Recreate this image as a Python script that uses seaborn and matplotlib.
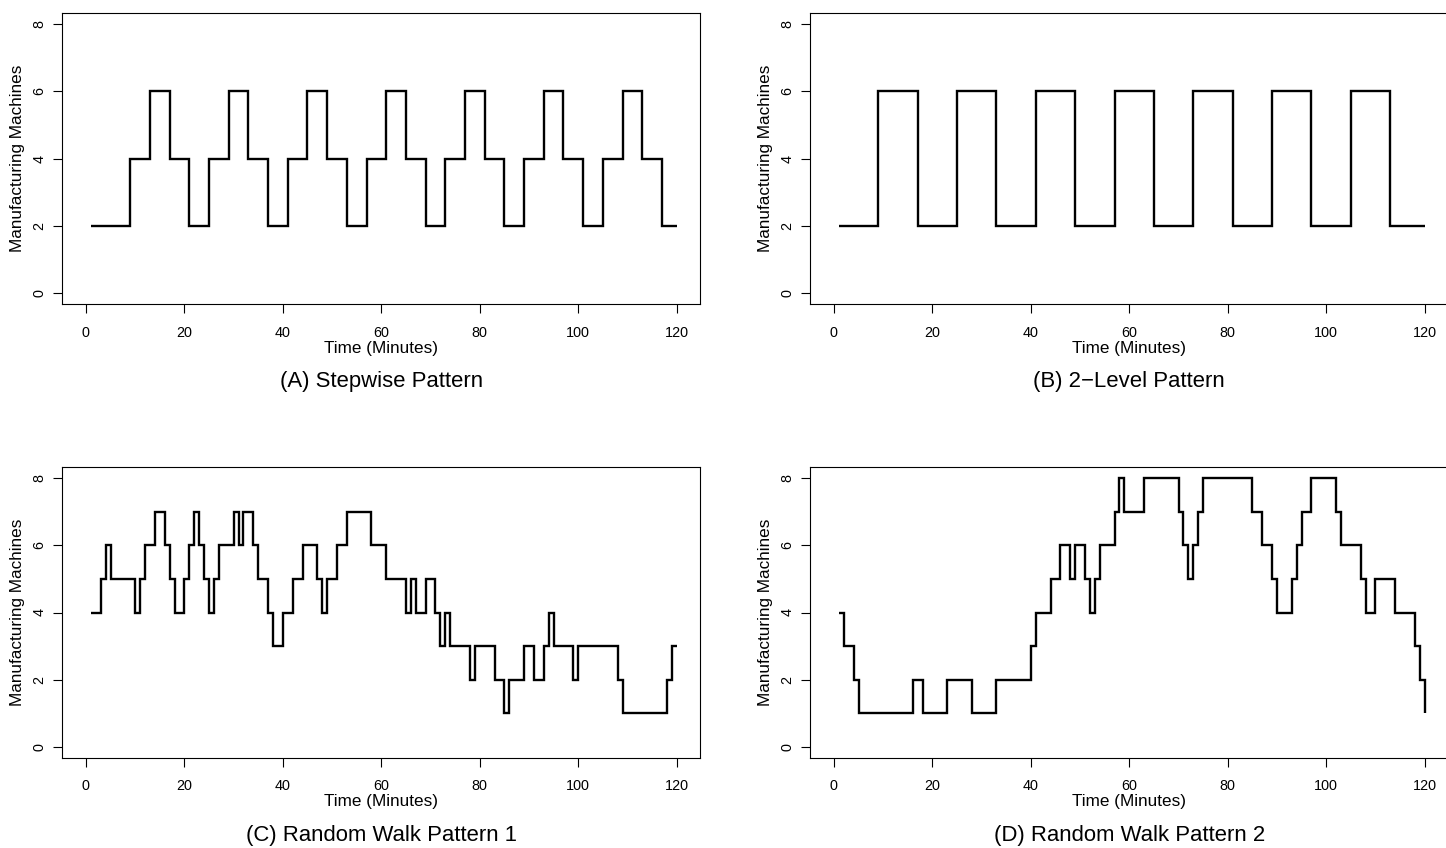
import matplotlib
matplotlib.use("Agg")
import matplotlib.pyplot as plt
import seaborn as sns
import pandas as pd

# Machine counts over a two-hour run; each list holds the minute at which the
# level changes and the new level (the final entry closes the series at 120).
stepwise_minute = [1, 9, 13, 17, 21, 25, 29, 33, 37, 41, 45, 49, 53, 57, 61,
                   65, 69, 73, 77, 81, 85, 89, 93, 97, 101, 105, 109, 113, 117, 120]
stepwise_level = [2, 4, 6, 4, 2, 4, 6, 4, 2, 4, 6, 4, 2, 4, 6,
                  4, 2, 4, 6, 4, 2, 4, 6, 4, 2, 4, 6, 4, 2, 2]

twolevel_minute = [1, 9, 17, 25, 33, 41, 49, 57, 65, 73, 81, 89, 97, 105, 113, 120]
twolevel_level = [2, 6, 2, 6, 2, 6, 2, 6, 2, 6, 2, 6, 2, 6, 2, 2]

walk1_minute = [1, 3, 4, 5, 10, 11, 12, 14, 16, 17, 18, 20, 21, 22, 23, 24, 25,
                26, 27, 30, 31, 32, 34, 35, 37, 38, 40, 42, 44, 47, 48, 49, 51,
                53, 58, 61, 65, 66, 67, 69, 71, 72, 73, 74, 78, 79, 83, 85, 86,
                89, 91, 93, 94, 95, 99, 100, 108, 109, 118, 119, 120]
walk1_level = [4, 5, 6, 5, 4, 5, 6, 7, 6, 5, 4, 5, 6, 7, 6, 5, 4,
               5, 6, 7, 6, 7, 6, 5, 4, 3, 4, 5, 6, 5, 4, 5, 6,
               7, 6, 5, 4, 5, 4, 5, 4, 3, 4, 3, 2, 3, 2, 1, 2,
               3, 2, 3, 4, 3, 2, 3, 2, 1, 2, 3, 3]

walk2_minute = [1, 2, 4, 5, 16, 18, 23, 28, 33, 40, 41, 44, 46, 48, 49, 51, 52,
                53, 54, 57, 58, 59, 63, 70, 71, 72, 73, 74, 75, 85, 87, 89, 90,
                93, 94, 95, 97, 102, 103, 107, 108, 110, 114, 118, 119, 120]
walk2_level = [4, 3, 2, 1, 2, 1, 2, 1, 2, 3, 4, 5, 6, 5, 6, 5, 4,
               5, 6, 7, 8, 7, 8, 7, 6, 5, 6, 7, 8, 7, 6, 5, 4,
               5, 6, 7, 8, 7, 6, 5, 4, 5, 4, 3, 2, 1]

panel_titles = ["(A) Stepwise Pattern", "(B) 2\u2212Level Pattern",
                "(C) Random Walk Pattern 1", "(D) Random Walk Pattern 2"]
x_label = "Time (Minutes)"
y_label = "Manufacturing Machines"
x_ticks = [0, 20, 40, 60, 80, 100, 120]
y_ticks = [0, 2, 4, 6, 8]

series = [(stepwise_minute, stepwise_level),
          (twolevel_minute, twolevel_level),
          (walk1_minute, walk1_level),
          (walk2_minute, walk2_level)]

sns.set_style("ticks")
plt.rcParams["font.family"] = ["Liberation Sans", "DejaVu Sans"]
plt.rcParams["axes.edgecolor"] = "black"
plt.rcParams["text.color"] = "black"
plt.rcParams["axes.labelcolor"] = "black"
plt.rcParams["xtick.color"] = "black"
plt.rcParams["ytick.color"] = "black"

fig = plt.figure(figsize=(14.46, 8.48), dpi=100)

W, H = 1446.0, 848.0
ax_w, ax_h = 638.0 / W, 290.6 / H
lefts = [62.3 / W, 810.3 / W]
bottoms = [1 - 304.0 / H, 1 - 757.8 / H]
boxes = [[lefts[0], bottoms[0], ax_w, ax_h], [lefts[1], bottoms[0], ax_w, ax_h],
         [lefts[0], bottoms[1], ax_w, ax_h], [lefts[1], bottoms[1], ax_w, ax_h]]

for box, (minute, level), title in zip(boxes, series, panel_titles):
    ax = fig.add_axes(box)
    df = pd.DataFrame({"minute": minute, "machines": level})
    sns.lineplot(data=df, x="minute", y="machines", ax=ax, color="black",
                 linewidth=1.7, drawstyle="steps-post", estimator=None,
                 sort=False, solid_joinstyle="miter", solid_capstyle="butt")
    ax.set_xlim(-4.8, 124.8)
    ax.set_ylim(-0.32, 8.32)
    ax.set_xticks(x_ticks)
    ax.set_yticks(y_ticks)
    ax.set_yticklabels([str(v) for v in y_ticks], rotation=90, va="center")
    ax.set_xlabel("")
    ax.set_ylabel("")
    for sp in ax.spines.values():
        sp.set_visible(True)
        sp.set_linewidth(0.8)
        sp.set_color("black")
    ax.tick_params(axis="both", direction="out", length=6.5, width=0.8,
                   labelsize=10.4, colors="black", labelcolor="black")
    ax.tick_params(axis="x", pad=9)
    ax.tick_params(axis="y", pad=5)
    ax.annotate(x_label, xy=(0.5, 0), xycoords="axes fraction",
                xytext=(0, -31.7), textcoords="offset points",
                ha="center", va="center", fontsize=12.3, color="black")
    ax.annotate(y_label, xy=(0, 0.5), xycoords="axes fraction",
                xytext=(-32.6, 0), textcoords="offset points",
                ha="center", va="center", rotation=90, fontsize=12.3,
                color="black")
    ax.annotate(title, xy=(0.5, 0), xycoords="axes fraction",
                xytext=(0, -55.9), textcoords="offset points",
                ha="center", va="center", fontsize=15.9, color="black")

fig.savefig("out.png", dpi=100, facecolor="white")
